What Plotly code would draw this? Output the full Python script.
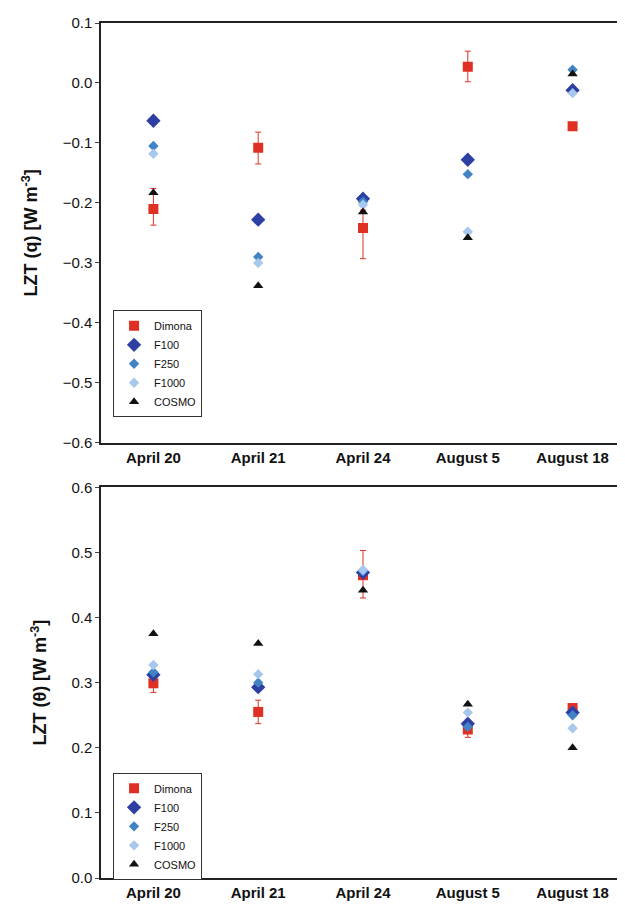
import plotly.graph_objects as go

cats = ["April 20", "April 21", "April 24", "August 5", "August 18"]
series = ["Dimona", "F100", "F250", "F1000", "COSMO"]

q_dimona = [-0.21, -0.108, -0.242, 0.027, -0.072]
q_err_plus = [0.034, 0.026, 0.03, 0.026, 0.006]
q_err_minus = [0.027, 0.027, 0.051, 0.025, 0.006]
q_f100 = [-0.063, -0.228, -0.193, -0.128, -0.012]
q_f250 = [-0.105, -0.29, -0.198, -0.152, 0.022]
q_f1000 = [-0.118, -0.30, -0.203, -0.248, -0.017]
q_cosmo = [-0.183, -0.338, -0.215, -0.258, 0.015]

t_dimona = [0.299, 0.255, 0.465, 0.228, 0.261]
t_err_plus = [0.012, 0.018, 0.038, 0.012, 0.005]
t_err_minus = [0.014, 0.018, 0.035, 0.012, 0.005]
t_f100 = [0.312, 0.293, 0.469, 0.237, 0.254]
t_f250 = [0.316, 0.300, 0.471, 0.232, 0.250]
t_f1000 = [0.327, 0.313, 0.473, 0.254, 0.230]
t_cosmo = [0.375, 0.360, 0.442, 0.267, 0.200]

styles = {
    "Dimona": dict(symbol="square", color="#E03024", size=10),
    "F100": dict(symbol="diamond", color="#2E3FA3", size=11),
    "F250": dict(symbol="diamond", color="#4283C6", size=8),
    "F1000": dict(symbol="diamond", color="#A7C7EC", size=8),
    "COSMO": dict(symbol="triangle-up", color="#111111", size=9),
}

fig = go.Figure()
x = list(range(len(cats)))

def add(vals, name, ya, leg, ep=None, em=None):
    st = styles[name]
    kw = {}
    if ep is not None:
        kw["error_y"] = dict(type="data", array=ep, arrayminus=em, color="#E03024", thickness=1, width=3)
    fig.add_trace(go.Scatter(x=x, y=vals, mode="markers", name=name, yaxis=ya,
                             xaxis="x" if ya == "y" else "x2", legend=leg,
                             marker=dict(symbol=st["symbol"], color=st["color"], size=st["size"]), **kw))

add(q_dimona, "Dimona", "y", "legend", q_err_plus, q_err_minus)
add(q_f100, "F100", "y", "legend")
add(q_f250, "F250", "y", "legend")
add(q_f1000, "F1000", "y", "legend")
add(q_cosmo, "COSMO", "y", "legend")
add(t_dimona, "Dimona", "y2", "legend2", t_err_plus, t_err_minus)
add(t_f100, "F100", "y2", "legend2")
add(t_f250, "F250", "y2", "legend2")
add(t_f1000, "F1000", "y2", "legend2")
add(t_cosmo, "COSMO", "y2", "legend2")

xax = dict(range=[-0.5, 4.5], tickvals=x, ticktext=["<b>%s</b>" % c for c in cats],
           showline=True, linecolor="#222", linewidth=1.5, mirror=True, showgrid=False,
           zeroline=False, tickfont=dict(size=15, color="#111"), ticks="")
yax = dict(dtick=0.1, tickformat=".1f", showline=True, linecolor="#222", linewidth=1.5,
           mirror=True, showgrid=False, zeroline=False, ticks="outside", ticklen=4,
           tickfont=dict(size=15))
leg = dict(xanchor="left", yanchor="top", bordercolor="#333", borderwidth=1,
           font=dict(size=11), itemsizing="trace", tracegroupgap=0, bgcolor="white",
           itemwidth=30)
fig.update_layout(
    width=625, height=906, plot_bgcolor="white", paper_bgcolor="white",
    margin=dict(l=93, r=8, t=6, b=36),
    font=dict(family="Liberation Sans, Arial", color="#111"),
    xaxis=dict(xax, anchor="y"),
    xaxis2=dict(xax, anchor="y2"),
    yaxis=dict(yax, domain=[0.509, 1], range=[-0.6, 0.1],
               title=dict(text="<b>LZT (q) [W m<sup>-3</sup>]</b>", font=dict(size=18), standoff=20)),
    yaxis2=dict(yax, domain=[0, 0.457], range=[0, 0.6],
                title=dict(text="<b>LZT (θ) [W m<sup>-3</sup>]</b>", font=dict(size=18), standoff=20)),
    legend=dict(leg, x=0.023, y=0.664),
    legend2=dict(leg, x=0.023, y=0.123),
)
fig.write_html("out.html")
